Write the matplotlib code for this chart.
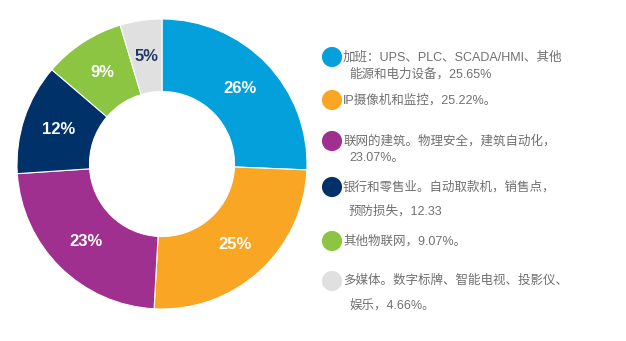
import matplotlib
matplotlib.use("Agg")
import matplotlib.pyplot as plt
import numpy as np

# segment shares (percent), clockwise from 12 o'clock
values = [25.65, 25.22, 23.07, 12.33, 9.07, 4.66]
pct_labels = ["26%", "25%", "23%", "12%", "9%", "5%"]
colors = ["#04A0DB", "#F8A623", "#A0308F", "#003168", "#8BC541", "#E0E0E0"]
label_colors = ["white", "white", "white", "white", "white", "#1F3864"]

legend_lines = [
    ["加班：UPS、PLC、SCADA/HMI、其他", "能源和电力设备，25.65%"],
    ["IP摄像机和监控，25.22%。"],
    ["联网的建筑。物理安全，建筑自动化，", "23.07%。"],
    ["银行和零售业。自动取款机，销售点，", "预防损失，12.33"],
    ["其他物联网，9.07%。"],
    ["多媒体。数字标牌、智能电视、投影仪、", "娱乐，4.66%。"],
]

fonts = ["Liberation Sans", "Noto Sans CJK SC", "DejaVu Sans"]

fig = plt.figure(figsize=(6.26, 3.41), dpi=100)

ax = fig.add_axes([17 / 626, 1 - 309 / 341, 290 / 626, 290 / 341])
wedges, texts = ax.pie(
    values,
    colors=colors,
    startangle=90,
    counterclock=False,
    radius=1.0,
    wedgeprops=dict(width=0.5, edgecolor="white", linewidth=0.8),
)
for w, lab, c in zip(wedges, pct_labels, label_colors):
    ang = np.deg2rad((w.theta1 + w.theta2) / 2)
    ax.text(0.75 * np.cos(ang), 0.75 * np.sin(ang), lab, ha="center", va="center",
            color=c, fontsize=12, fontweight="bold", family=fonts)
ax.set_aspect("equal")
ax.set_xlim(-1, 1)
ax.set_ylim(-1, 1)
ax.axis("off")

# legend drawn in pixel coords
lg = fig.add_axes([0, 0, 1, 1])
lg.set_xlim(0, 626)
lg.set_ylim(341, 0)
lg.axis("off")

row_y = [57, 100, 141, 187, 241, 281]
second_gap = [17, 0, 17, 24, 0, 24]
lg.scatter([332] * len(colors), row_y, s=210, c=colors, linewidths=0, zorder=3)
for y, lines, gap in zip(row_y, legend_lines, second_gap):
    lg.text(343, y, lines[0], ha="left", va="center", fontsize=9,
            color="#707070", family=fonts)
    if len(lines) > 1:
        lg.text(349, y + gap, lines[1], ha="left", va="center", fontsize=9,
                color="#707070", family=fonts)

fig.savefig("out.png", dpi=100, facecolor="white")
